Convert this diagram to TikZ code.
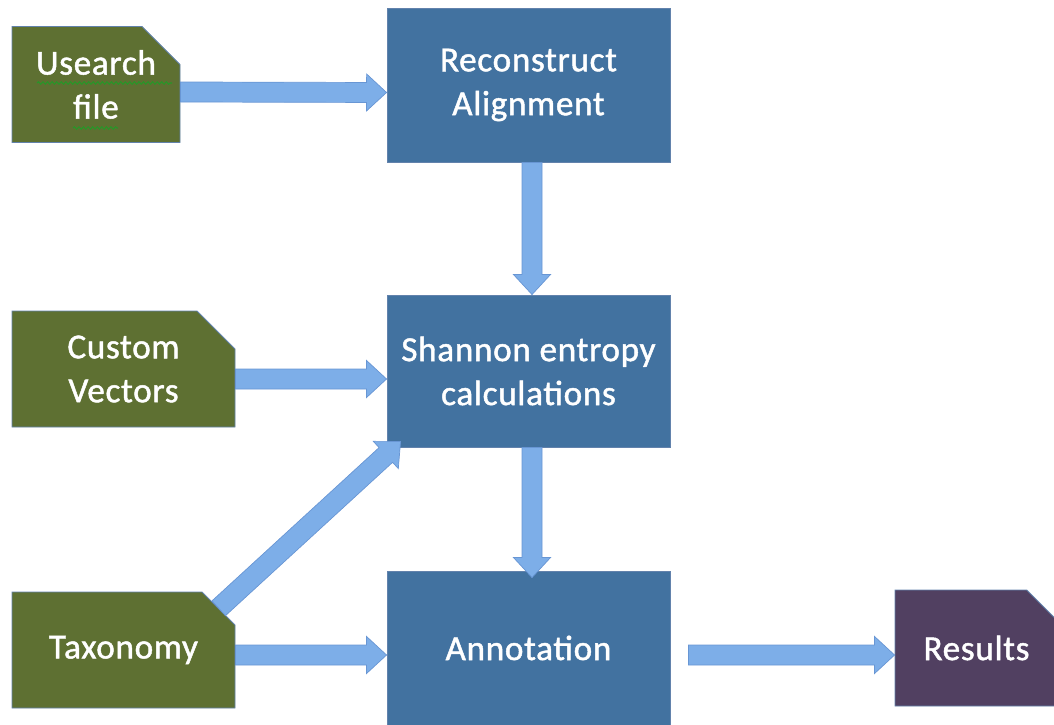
\documentclass[tikz,border=0pt]{standalone}
\usepackage{fontspec}
\setmainfont{Carlito}[BoldFont=Carlito, BoldFeatures={FakeBold=1.3, LetterSpace=2}]
\usetikzlibrary{shapes.misc,calc,decorations.pathmorphing}

\definecolor{filegreen}{RGB}{94,112,50}
\definecolor{stepblue}{RGB}{66,114,160}
\definecolor{outplum}{RGB}{81,64,97}
\definecolor{flowfill}{RGB}{125,174,232}
\definecolor{flowedge}{RGB}{104,150,212}
\definecolor{rimblue}{RGB}{98,130,172}
\definecolor{spellgreen}{RGB}{40,150,40}

\tikzset{
  boxtext/.style={text=white, align=center, font=\fontsize{20}{25}\selectfont\bfseries},
  filebox/.style={boxtext, chamfered rectangle, chamfered rectangle corners=north east,
    chamfered rectangle xsep=0.38cm, chamfered rectangle ysep=0.38cm,
    fill=filegreen, draw=rimblue, line width=0.5pt, inner sep=0pt, minimum height=2.32cm},
  stepbox/.style={boxtext, rectangle, fill=stepblue, draw=rimblue, line width=0.5pt,
    minimum width=5.66cm, minimum height=3.08cm},
  flow/.style={fill=flowfill, draw=flowedge, line width=0.4pt,
    to path={let \p1=(\tikztostart), \p2=(\tikztotarget),
      \n1={atan2(\y2-\y1,\x2-\x1)}, \n2={veclen(\x2-\x1,\y2-\y1)-0.4cm} in
      ($(\p1)+(\n1+90:0.2cm)$) -- ($(\p1)+(\n1:\n2)+(\n1+90:0.2cm)$)
      -- ($(\p1)+(\n1:\n2)+(\n1+90:0.37cm)$) -- (\p2)
      -- ($(\p1)+(\n1:\n2)+(\n1-90:0.37cm)$) -- ($(\p1)+(\n1:\n2)+(\n1-90:0.2cm)$)
      -- ($(\p1)+(\n1-90:0.2cm)$) -- cycle}},
  spell/.style={spellgreen, line width=0.6pt, decorate,
    decoration={snake, amplitude=0.7pt, segment length=2.6pt}}
}

\begin{document}
\begin{tikzpicture}
  \useasboundingbox (0,0) rectangle (21.08,14.48);
  \clip (0,0) rectangle (21.08,14.48);

  % input files
  \node[filebox, minimum width=3.36cm] (use) at (1.92,12.79) {Usearch\\file};
  \node[filebox, minimum width=4.46cm] (vec) at (2.47,7.1) {Custom\\Vectors};
  \node[filebox, minimum width=4.46cm] (tax) at (2.47,1.48) {Taxonomy};

  % processing steps
  \node[stepbox] (rec) at (10.57,12.78) {Reconstruct\\Alignment};
  \node[stepbox, minimum height=3.04cm] (sha) at (10.57,7.06) {Shannon entropy\\calculations};
  \node[stepbox] (ann) at (10.57,1.52) {Annotation};

  % output
  \node[filebox, fill=outplum, minimum width=3.26cm] (res) at (19.53,1.52) {Results};

  % spell check marks
  \draw[spell] (0.74,12.82) -- (3.44,12.82);
  \draw[spell] (1.46,11.92) -- (2.36,11.92);

  % arrows
  \draw[flow] ([yshift=-0.15cm]use.east) to ([yshift=-0.15cm]rec.west);
  \draw[flow] ([xshift=0.07cm]rec.south) to ([xshift=0.07cm]sha.north);
  \draw[flow] ([yshift=-0.2cm]vec.east) to ([yshift=-0.16cm]sha.west);
  \draw[flow] (tax.north east) to ([xshift=0.28cm,yshift=0.12cm]sha.south west);
  \draw[flow] ([xshift=0.07cm]sha.south) to ([xshift=0.07cm,yshift=-0.14cm]ann.north);
  \draw[flow] ([yshift=-0.1cm]tax.east) to ([yshift=-0.14cm]ann.west);
  \draw[flow] ([xshift=0.36cm,yshift=-0.14cm]ann.east) to ([yshift=-0.14cm]res.west);
\end{tikzpicture}
\end{document}
